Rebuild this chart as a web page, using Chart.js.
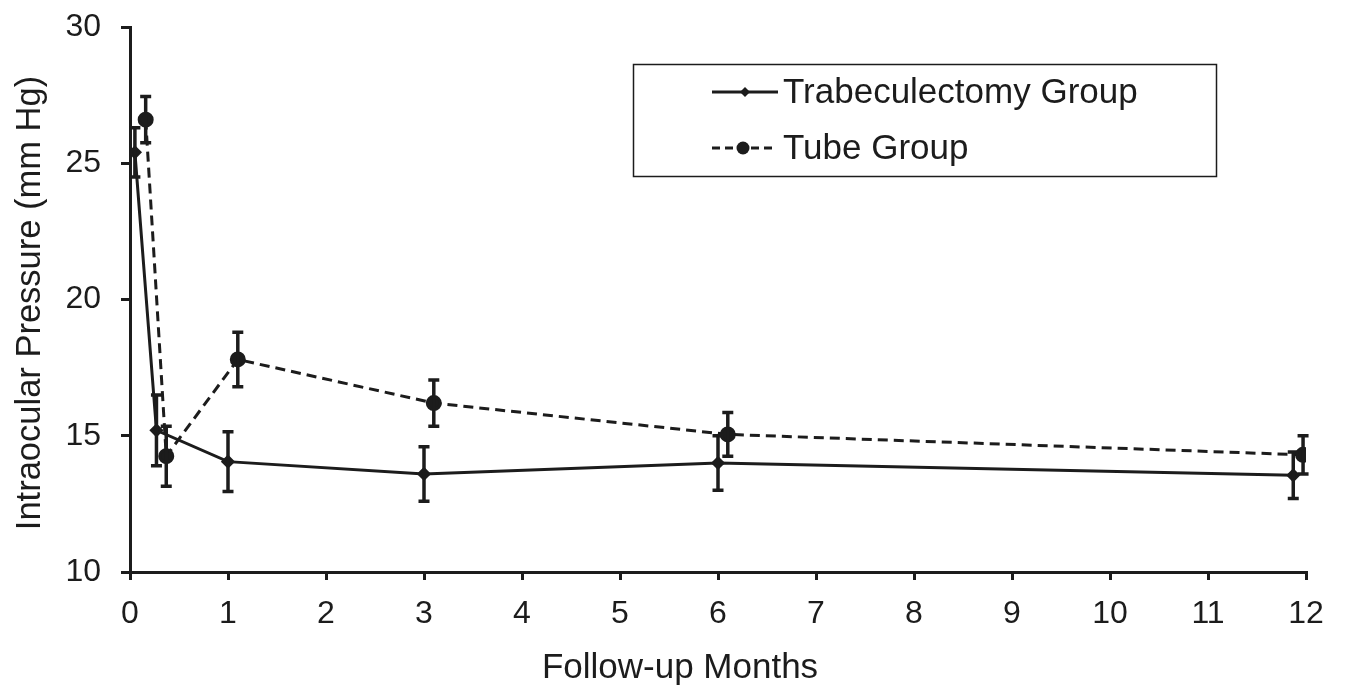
<!DOCTYPE html>
<html>
<head>
<meta charset="utf-8">
<script src="https://cdn.jsdelivr.net/npm/chart.js@4"></script>
<style>
  html, body { margin: 0; padding: 0; background: #fff; }
  #wrap { width: 1345px; height: 694px; position: relative; }
</style>
</head>
<body>
<div id="wrap"><canvas id="iopChart"></canvas></div>
<script>
const seriesNames = ["Trabeculectomy Group", "Tube Group"];
const xTitle = "Follow-up Months";
const yTitle = "Intraocular Pressure (mm Hg)";

// months of follow-up (points are slightly offset between groups)
const trabMonths = [0.05, 0.27, 1.0, 3.0, 6.0, 11.87];
const trabIop = [25.4, 15.2, 14.05, 13.6, 14.0, 13.55];
const trabSd = [0.9, 1.3, 1.1, 1.0, 1.0, 0.85];

const tubeMonths = [0.16, 0.37, 1.1, 3.1, 6.1, 11.97];
const tubeIop = [26.6, 14.25, 17.8, 16.2, 15.05, 14.3];
const tubeSd = [0.85, 1.1, 1.0, 0.85, 0.8, 0.7];

const xTicks = [0, 1, 2, 3, 4, 5, 6, 7, 8, 9, 10, 11, 12];
const yTicks = [10, 15, 20, 25, 30];

const ink = "#1c1c1c";
const fontFamily = "'Liberation Sans', Arial, sans-serif";

function toPoints(xs, ys) {
  return xs.map((x, i) => ({ x: x, y: ys[i] }));
}

const errorBarPlugin = {
  id: "errorBars",
  afterDatasetsDraw(chart) {
    const ctx = chart.ctx;
    const yScale = chart.scales.y;
    const sds = [trabSd, tubeSd];
    ctx.save();
    ctx.strokeStyle = ink;
    ctx.lineWidth = 3.5;
    ctx.setLineDash([]);
    chart.data.datasets.forEach((ds, di) => {
      const meta = chart.getDatasetMeta(di);
      meta.data.forEach((pt, i) => {
        const v = ds.data[i].y;
        const top = yScale.getPixelForValue(v + sds[di][i]);
        const bottom = yScale.getPixelForValue(v - sds[di][i]);
        ctx.beginPath();
        ctx.moveTo(pt.x, top);
        ctx.lineTo(pt.x, bottom);
        ctx.moveTo(pt.x - 5.5, top);
        ctx.lineTo(pt.x + 5.5, top);
        ctx.moveTo(pt.x - 5.5, bottom);
        ctx.lineTo(pt.x + 5.5, bottom);
        ctx.stroke();
      });
    });
    ctx.restore();
  },
  afterDraw(chart) {
    const ctx = chart.ctx;
    ctx.save();
    ctx.fillStyle = ink;
    ctx.strokeStyle = ink;

    // axis titles
    ctx.font = "35px " + fontFamily;
    ctx.textAlign = "center";
    ctx.textBaseline = "middle";
    ctx.fillText(xTitle, 680, 668);
    ctx.save();
    ctx.font = "34.5px " + fontFamily;
    ctx.translate(30, 303);
    ctx.rotate(-Math.PI / 2);
    ctx.fillText(yTitle, 0, 0);
    ctx.restore();

    // legend box
    ctx.lineWidth = 1.5;
    ctx.strokeRect(633.5, 64.5, 583, 112);

    // row 1: solid line with diamond
    ctx.lineWidth = 3;
    ctx.beginPath();
    ctx.moveTo(712, 92);
    ctx.lineTo(778, 92);
    ctx.stroke();
    ctx.beginPath();
    ctx.moveTo(745, 87);
    ctx.lineTo(750, 92);
    ctx.lineTo(745, 97);
    ctx.lineTo(740, 92);
    ctx.closePath();
    ctx.fill();

    // row 2: dashed line with circle
    ctx.setLineDash([8, 5]);
    ctx.beginPath();
    ctx.moveTo(712, 148);
    ctx.lineTo(776, 148);
    ctx.stroke();
    ctx.setLineDash([]);
    ctx.beginPath();
    ctx.arc(743, 148, 6.5, 0, Math.PI * 2);
    ctx.fill();

    ctx.font = "35px " + fontFamily;
    ctx.textAlign = "left";
    ctx.fillText(seriesNames[0], 783, 93);
    ctx.fillText(seriesNames[1], 783, 149);
    ctx.restore();
  }
};

new Chart(document.getElementById("iopChart"), {
  type: "scatter",
  data: {
    datasets: [
      {
        label: seriesNames[0],
        data: toPoints(trabMonths, trabIop),
        showLine: true,
        borderColor: ink,
        backgroundColor: ink,
        borderWidth: 3,
        pointStyle: "rectRot",
        pointRadius: 5,
        pointHoverRadius: 5
      },
      {
        label: seriesNames[1],
        data: toPoints(tubeMonths, tubeIop),
        showLine: true,
        borderColor: ink,
        backgroundColor: ink,
        borderWidth: 3,
        borderDash: [10, 6],
        pointStyle: "circle",
        pointRadius: 6.5,
        pointHoverRadius: 6.5
      }
    ]
  },
  options: {
    responsive: true,
    maintainAspectRatio: false,
    animation: false,
    layout: { padding: { top: 27, right: 39, left: 0, bottom: 0 } },
    plugins: {
      legend: { display: false },
      tooltip: { enabled: false }
    },
    scales: {
      x: {
        type: "linear",
        min: 0,
        max: 12,
        afterFit: (s) => { s.height = 122; s.paddingLeft = 0; s.paddingRight = 0; },
        afterBuildTicks: (s) => { s.ticks = xTicks.map((v) => ({ value: v })); },
        border: { color: ink, width: 3 },
        grid: { drawOnChartArea: false, color: ink, lineWidth: 3, tickLength: 8 },
        ticks: { color: ink, font: { family: fontFamily, size: 32 }, padding: 15, maxRotation: 0 }
      },
      y: {
        min: 10,
        max: 30,
        afterFit: (s) => { s.width = 130; s.paddingTop = 0; s.paddingBottom = 0; },
        afterBuildTicks: (s) => { s.ticks = yTicks.map((v) => ({ value: v })); },
        border: { color: ink, width: 3 },
        grid: { drawOnChartArea: false, color: ink, lineWidth: 3, tickLength: 9 },
        ticks: { color: ink, font: { family: fontFamily, size: 32 }, padding: 20 }
      }
    }
  },
  plugins: [errorBarPlugin]
});
</script>
</body>
</html>
